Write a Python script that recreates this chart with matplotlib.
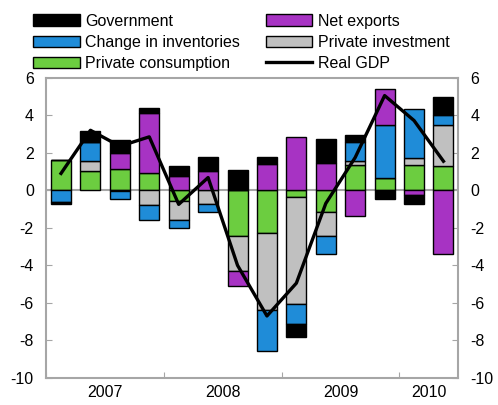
import numpy as np
import matplotlib
matplotlib.use("Agg")
import matplotlib.pyplot as plt
from matplotlib.patches import Patch
from matplotlib.lines import Line2D

plt.rcParams['font.family'] = ['Liberation Sans', 'DejaVu Sans']
plt.rcParams['axes.unicode_minus'] = False

# quarterly contributions, 2007Q1 .. 2010Q2
consumption = [1.63, 1.02, 1.13, 0.92, -0.58, 0.0, -2.45, -2.26, -0.35, -1.15, 1.37, 0.64, 1.35, 1.30]
investment = [0.0, 0.56, -0.05, -0.80, -1.00, -0.72, -1.85, -4.12, -5.70, -1.26, 0.18, 0.0, 0.36, 2.18]
inventories = [-0.60, 0.98, -0.42, -0.80, -0.45, -0.45, 0.0, -2.20, -1.10, -1.00, 1.02, 2.83, 2.62, 0.53]
net_exports = [0.0, 0.0, 0.84, 3.20, 0.74, 1.04, -0.78, 1.42, 2.82, 1.46, -1.35, 1.93, -0.24, -3.38]
government = [-0.15, 0.59, 0.73, 0.25, 0.53, 0.72, 1.07, 0.37, -0.67, 1.30, 0.36, -0.44, -0.47, 0.94]
real_gdp = [0.9, 3.2, 2.35, 2.85, -0.75, 0.68, -4.0, -6.7, -4.95, -0.7, 1.75, 5.05, 3.72, 1.55]

years = ["2007", "2008", "2009", "2010"]
year_pos = [1.5, 5.5, 9.5, 12.5]

series = [
    ("Private consumption", consumption, "#6ccd40"),
    ("Private investment", investment, "#c0c0c0"),
    ("Change in inventories", inventories, "#1f8cd8"),
    ("Net exports", net_exports, "#a733c3"),
    ("Government", government, "#000000"),
]

fig = plt.figure(figsize=(4.98, 4.05), dpi=100)
ax = fig.add_axes([0.093, 0.067, 0.827, 0.741])

x = np.arange(len(real_gdp))
pos_base = np.zeros(len(x))
neg_base = np.zeros(len(x))
for name, vals, col in series:
    v = np.array(vals)
    bottom = np.where(v >= 0, pos_base, neg_base)
    ax.bar(x, v, 0.68, bottom=bottom, color=col, edgecolor="black", linewidth=1.0, zorder=2)
    pos_base += np.where(v > 0, v, 0)
    neg_base += np.where(v < 0, v, 0)

ax.axhline(0, color="#a6a6a6", linewidth=1.5, zorder=1)
ax.plot(x, real_gdp, color="black", linewidth=2.4, zorder=3)

ax.set_xlim(-0.5, 13.5)
ax.set_ylim(-10, 6)
ax.set_yticks(range(-10, 7, 2))
ax.set_xticks([-0.5, 3.5, 7.5, 11.5])
ax.set_xticklabels([])
ax.set_xticks(year_pos, minor=True)
ax.set_xticklabels(years, minor=True)
ax.tick_params(axis="x", which="minor", length=0, pad=5, labelsize=11.5)
ax.tick_params(axis="x", which="major", direction="in", length=4, color="#a6a6a6")
ax.tick_params(axis="y", direction="in", length=4, color="#a6a6a6", labelsize=11.5,
               left=True, right=True, labelleft=True, labelright=True, pad=9)
for s in ax.spines.values():
    s.set_color("#a6a6a6")
    s.set_linewidth(1.5)

handles = [
    Patch(facecolor="#000000", edgecolor="black", label="Government"),
    Patch(facecolor="#1f8cd8", edgecolor="black", label="Change in inventories"),
    Patch(facecolor="#6ccd40", edgecolor="black", label="Private consumption"),
    Patch(facecolor="#a733c3", edgecolor="black", label="Net exports"),
    Patch(facecolor="#c0c0c0", edgecolor="black", label="Private investment"),
    Line2D([0], [0], color="black", linewidth=2.4, label="Real GDP"),
]
fig.legend(handles=handles, ncol=2, frameon=False, fontsize=11.5,
           loc="upper left", bbox_to_anchor=(0.054, 0.982),
           handlelength=2.9, handleheight=0.7, handletextpad=0.35,
           columnspacing=1.6, labelspacing=0.38, borderaxespad=0)

fig.savefig("out.png", dpi=100)
